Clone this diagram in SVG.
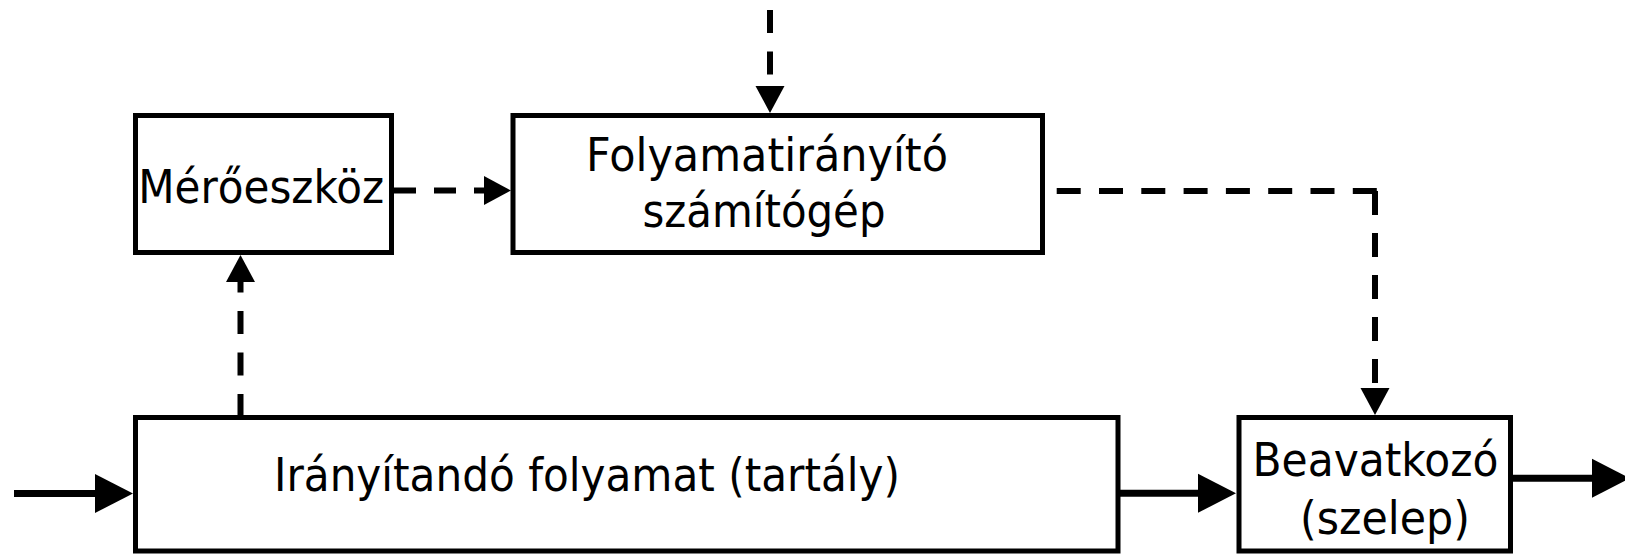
<svg xmlns="http://www.w3.org/2000/svg" width="1625" height="554" viewBox="0 0 1625 554">
  <style>
    .box { fill: #ffffff; stroke: #000000; stroke-width: 5; }
    .lbl { font-family: "DejaVu Sans", "Liberation Sans", sans-serif; font-size: 46px; fill: #000000; text-anchor: middle; }
    .dash { fill: none; stroke: #000000; stroke-width: 6; }
    .solid { fill: none; stroke: #000000; stroke-width: 7; }
  </style>
  <defs>
    <marker id="headDash" markerUnits="userSpaceOnUse" markerWidth="28" markerHeight="30" refX="0" refY="14.5" orient="auto" overflow="visible">
      <path d="M0,0 L27,14.5 L0,29 Z" fill="#000000"/>
    </marker>
    <marker id="headSolid" markerUnits="userSpaceOnUse" markerWidth="39" markerHeight="40" refX="0" refY="19.5" orient="auto" overflow="visible">
      <path d="M0,0 L38,19.5 L0,39 Z" fill="#000000"/>
    </marker>
  </defs>
  <rect width="1625" height="554" fill="#ffffff"/>

  <!-- connectors -->
  <g id="connectors">
    <!-- set point from above into the controller -->
    <path class="dash" d="M770,10 V86" stroke-dasharray="23 18.5" marker-end="url(#headDash)"/>
    <!-- measurement into controller -->
    <path class="dash" d="M394,190.5 H484" stroke-dasharray="22 18" marker-end="url(#headDash)"/>
    <!-- controller output to the valve -->
    <path class="dash" d="M1056.7,191 H1378" stroke-dasharray="24 18.3"/>
    <path class="dash" d="M1375,191 V388" stroke-dasharray="24 18" marker-end="url(#headDash)"/>
    <!-- process to measuring device -->
    <path class="dash" d="M240.5,417 V282" stroke-dasharray="23 18.5" marker-end="url(#headDash)"/>
    <!-- material flow -->
    <path class="solid" d="M14,493.5 H95" marker-end="url(#headSolid)"/>
    <path class="solid" d="M1118,493.3 H1198" marker-end="url(#headSolid)"/>
    <path class="solid" d="M1510,478.3 H1592" marker-end="url(#headSolid)"/>
  </g>

  <g id="meroeszkoz">
    <rect class="box" x="135.5" y="115.5" width="256" height="137"/>
    <text class="lbl" x="261.2" y="202.5" textLength="246" lengthAdjust="spacingAndGlyphs">Mérőeszköz</text>
  </g>

  <g id="folyamatiranyito">
    <rect class="box" x="513" y="115.5" width="529.5" height="137"/>
    <text class="lbl" x="767" y="170.5" textLength="362" lengthAdjust="spacingAndGlyphs">Folyamatirányító</text>
    <text class="lbl" x="764" y="227" textLength="243" lengthAdjust="spacingAndGlyphs">számítógép</text>
  </g>

  <g id="folyamat">
    <rect class="box" x="135.5" y="417.5" width="982.5" height="133.5"/>
    <text class="lbl" x="587" y="491" textLength="626" lengthAdjust="spacingAndGlyphs">Irányítandó folyamat (tartály)</text>
  </g>

  <g id="beavatkozo">
    <rect class="box" x="1239" y="417.5" width="271.5" height="133.5"/>
    <text class="lbl" x="1375.5" y="476" textLength="246" lengthAdjust="spacingAndGlyphs">Beavatkozó</text>
    <text class="lbl" x="1385" y="534" textLength="170" lengthAdjust="spacingAndGlyphs">(szelep)</text>
  </g>
</svg>
